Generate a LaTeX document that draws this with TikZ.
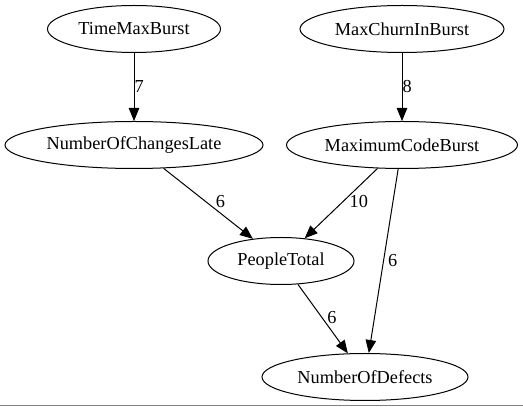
\documentclass[tikz,border=0pt]{standalone}
\usepackage{fontspec}
\setmainfont{Liberation Serif}
\usetikzlibrary{shapes.geometric,arrows.meta}
\begin{document}
\begin{tikzpicture}[x=1pt,y=1pt,
  vnode/.style={ellipse,draw,line width=1pt,inner sep=0pt,minimum height=47pt,font=\fontsize{18.3}{20}\selectfont},
  edge/.style={draw,line width=1pt,-{Triangle[length=13pt,width=10.5pt]}},
  elab/.style={font=\fontsize{18.3}{20}\selectfont,inner sep=0pt,anchor=west}]
\useasboundingbox (0,0) rectangle (523,407);
\node[vnode,minimum width=173pt] (tmb) at (134,378) {TimeMaxBurst};
\node[vnode,minimum width=204pt] (mcib) at (402,378) {MaxChurnInBurst};
\node[vnode,minimum width=258pt] (ncl) at (134,262) {NumberOfChangesLate};
\node[vnode,minimum width=231pt] (mcb) at (402,262) {MaximumCodeBurst};
\node[vnode,minimum width=146pt] (pt) at (281,146) {PeopleTotal};
\node[vnode,minimum width=206pt] (nod) at (365,30) {NumberOfDefects};
\draw[edge] (tmb) -- node[elab,pos=0.5]{7} (ncl);
\draw[edge] (mcib) -- node[elab,pos=0.5]{8} (mcb);
\draw[edge] (ncl) -- node[elab,pos=0.5,xshift=7pt,yshift=2pt]{6} (pt);
\draw[edge] (mcb) -- node[elab,pos=0.5,xshift=8pt,yshift=2pt]{10} (pt);
\draw[edge] (mcb) -- node[elab,pos=0.5,xshift=4pt]{6} (nod);
\draw[edge] (pt) -- node[elab,pos=0.5,xshift=4pt,yshift=1pt]{6} (nod);
\coordinate (bl) at (0,1.5);
\coordinate (br) at (523,1.5);
\draw[gray,line width=1.5pt] (bl) -- (br);
\end{tikzpicture}
\end{document}
